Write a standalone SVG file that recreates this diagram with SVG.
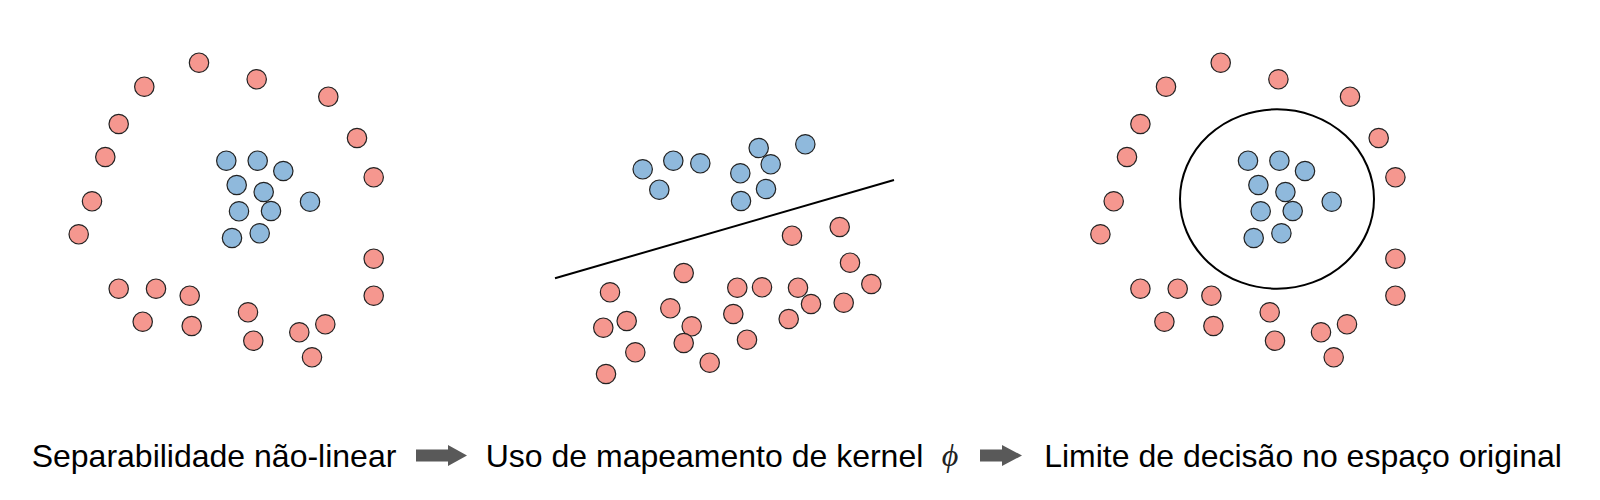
<svg xmlns="http://www.w3.org/2000/svg" width="1600" height="500" viewBox="0 0 1600 500">
<style>
.r{fill:#f5978f;stroke:#222;stroke-width:1.2}
.b{fill:#8fb9dc;stroke:#222;stroke-width:1.2}
.lbl{font-family:"Liberation Sans",Arial,sans-serif;font-size:32px;fill:#000;text-anchor:middle}
.arr{fill:#595959}
</style>
<rect width="1600" height="500" fill="#fff"/>
<defs>
<g id="ring">
<circle class="r" cx="199" cy="62.7" r="9.7"/>
<circle class="r" cx="144.3" cy="86.7" r="9.7"/>
<circle class="r" cx="256.7" cy="79.3" r="9.7"/>
<circle class="r" cx="328.3" cy="96.7" r="9.7"/>
<circle class="r" cx="118.7" cy="124" r="9.7"/>
<circle class="r" cx="357" cy="138" r="9.7"/>
<circle class="r" cx="105.3" cy="157" r="9.7"/>
<circle class="r" cx="373.7" cy="177.3" r="9.7"/>
<circle class="r" cx="92" cy="201.3" r="9.7"/>
<circle class="r" cx="78.7" cy="234.3" r="9.7"/>
<circle class="r" cx="373.7" cy="258.7" r="9.7"/>
<circle class="r" cx="373.7" cy="295.7" r="9.7"/>
<circle class="r" cx="118.7" cy="288.7" r="9.7"/>
<circle class="r" cx="156" cy="288.7" r="9.7"/>
<circle class="r" cx="189.7" cy="295.7" r="9.7"/>
<circle class="r" cx="142.7" cy="321.7" r="9.7"/>
<circle class="r" cx="191.7" cy="326" r="9.7"/>
<circle class="r" cx="248" cy="312.3" r="9.7"/>
<circle class="r" cx="253.3" cy="340.7" r="9.7"/>
<circle class="r" cx="299.3" cy="332.3" r="9.7"/>
<circle class="r" cx="325.3" cy="324.3" r="9.7"/>
<circle class="r" cx="312" cy="357.3" r="9.7"/>
<circle class="b" cx="226.3" cy="160.7" r="9.7"/>
<circle class="b" cx="257.7" cy="160.7" r="9.7"/>
<circle class="b" cx="283.3" cy="171" r="9.7"/>
<circle class="b" cx="236.7" cy="185" r="9.7"/>
<circle class="b" cx="263.7" cy="192" r="9.7"/>
<circle class="b" cx="310" cy="201.7" r="9.7"/>
<circle class="b" cx="239" cy="211.3" r="9.7"/>
<circle class="b" cx="271" cy="211" r="9.7"/>
<circle class="b" cx="232" cy="238" r="9.7"/>
<circle class="b" cx="259.7" cy="233.3" r="9.7"/>
</g>
</defs>
<g id="panel-nonlinear">
<use href="#ring"/>
</g>
<g id="panel-kernel">
<circle class="b" cx="642.7" cy="169.3" r="9.7"/>
<circle class="b" cx="673.3" cy="160.7" r="9.7"/>
<circle class="b" cx="700.3" cy="163.3" r="9.7"/>
<circle class="b" cx="659.3" cy="189.7" r="9.7"/>
<circle class="b" cx="758.7" cy="148" r="9.7"/>
<circle class="b" cx="770.7" cy="164.3" r="9.7"/>
<circle class="b" cx="740.3" cy="173.3" r="9.7"/>
<circle class="b" cx="766" cy="189" r="9.7"/>
<circle class="b" cx="741" cy="201" r="9.7"/>
<circle class="b" cx="805.3" cy="144.3" r="9.7"/>
<line x1="555" y1="278.3" x2="894" y2="180" stroke="#000" stroke-width="2"/>
<circle class="r" cx="792" cy="235.7" r="9.7"/>
<circle class="r" cx="839.7" cy="227" r="9.7"/>
<circle class="r" cx="850" cy="262.7" r="9.7"/>
<circle class="r" cx="683.7" cy="273" r="9.7"/>
<circle class="r" cx="871.3" cy="284" r="9.7"/>
<circle class="r" cx="610" cy="292.3" r="9.7"/>
<circle class="r" cx="737.3" cy="287.7" r="9.7"/>
<circle class="r" cx="762" cy="287.3" r="9.7"/>
<circle class="r" cx="798" cy="287.7" r="9.7"/>
<circle class="r" cx="670.3" cy="308.3" r="9.7"/>
<circle class="r" cx="811" cy="304" r="9.7"/>
<circle class="r" cx="843.7" cy="302.7" r="9.7"/>
<circle class="r" cx="733.3" cy="314" r="9.7"/>
<circle class="r" cx="788.7" cy="319" r="9.7"/>
<circle class="r" cx="626.7" cy="321" r="9.7"/>
<circle class="r" cx="603.3" cy="327.7" r="9.7"/>
<circle class="r" cx="691.7" cy="326.3" r="9.7"/>
<circle class="r" cx="683.7" cy="343" r="9.7"/>
<circle class="r" cx="747" cy="339.7" r="9.7"/>
<circle class="r" cx="635.3" cy="352.3" r="9.7"/>
<circle class="r" cx="709.7" cy="362.7" r="9.7"/>
<circle class="r" cx="606" cy="374" r="9.7"/>
</g>
<g id="panel-boundary">
<use href="#ring" transform="translate(1021.7,0)"/>
<ellipse cx="1277" cy="199" rx="97" ry="89.7" fill="none" stroke="#000" stroke-width="2"/>
</g>
<g id="captions">
<text class="lbl" x="214" y="467">Separabilidade não-linear</text>
<text class="lbl" x="704.5" y="467">Uso de mapeamento de kernel</text>
<text x="950" y="466" font-family="'Liberation Serif','DejaVu Serif',serif" font-style="italic" font-size="32" fill="#222" text-anchor="middle">ϕ</text>
<text class="lbl" x="1303" y="467">Limite de decisão no espaço original</text>
</g>
<g id="connectors">
<polygon class="arr" points="416,449.5 448,449.5 448,445 467,455.5 448,466 448,461.5 416,461.5"/>
<polygon class="arr" points="980,449.5 1002,449.5 1002,445 1022,455.5 1002,466 1002,461.5 980,461.5"/>
</g>
</svg>
